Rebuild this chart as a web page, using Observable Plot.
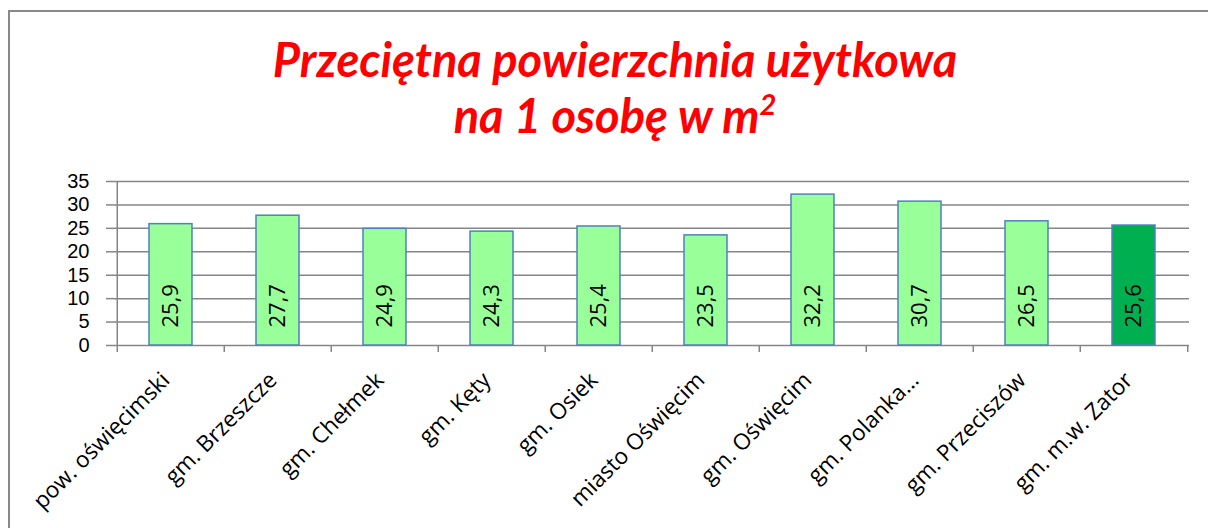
<!DOCTYPE html>
<html>
<head>
<meta charset="utf-8">
<script src="https://cdn.jsdelivr.net/npm/d3@7"></script>
<script src="https://cdn.jsdelivr.net/npm/@observablehq/plot@0.6"></script>
<style>
  html, body { margin: 0; padding: 0; background: #fff; }
  #wrap { position: relative; width: 1208px; height: 528px; overflow: hidden; background: #fff; }
  #border { position: absolute; left: 8px; top: 10px; width: 1300px; height: 700px; border: 2px solid #898989; box-sizing: border-box; }
  #title { position: absolute; left: 0; top: 31px; width: 1208px; text-align: center;
    font-family: Lato, "Open Sans", sans-serif; font-weight: bold; font-style: italic; font-size: 47px;
    line-height: 56px; color: #ff0000; padding-left: 22px; box-sizing: border-box; }
  #title sup { font-size: 0.62em; line-height: 0; vertical-align: 0.62em; }
  #chart { position: absolute; left: 0; top: 150px; }
</style>
</head>
<body>
<div id="wrap">
  <div id="border"></div>
  <div id="title">Przeciętna powierzchnia użytkowa<br>na 1 osobę w m<sup>2</sup></div>
  <div id="chart"></div>
</div>
<script>
const categories = ["pow. oświęcimski", "gm. Brzeszcze", "gm. Chełmek", "gm. Kęty", "gm. Osiek",
  "miasto Oświęcim", "gm. Oświęcim", "gm. Polanka…", "gm. Przeciszów", "gm. m.w. Zator"];
const values = [25.9, 27.7, 24.9, 24.3, 25.4, 23.5, 32.2, 30.7, 26.5, 25.6];
const highlighted = ["gm. m.w. Zator"];
const yTicks = [0, 5, 10, 15, 20, 25, 30, 35];

const data = categories.map((c, i) => ({category: c, value: values[i]}));

const W = 1208, H = 378, ML = 114, MR = 19, MT = 31, MB = 183;
const step = (W - ML - MR) / categories.length;
const gray = "#868686";
const light = "#99ff99", dark = "#00b050";
const fmt = v => v.toFixed(1).replace(".", ",");

const chart = Plot.plot({
  width: W, height: H,
  marginTop: MT, marginBottom: MB, marginLeft: ML, marginRight: MR,
  style: {fontFamily: "'Open Sans', sans-serif", fontSize: "21px", color: "black", background: "transparent", overflow: "visible"},
  x: {domain: categories, paddingInner: 0.6, paddingOuter: 0.3, label: null},
  y: {domain: [0, 35], label: null},
  color: {type: "identity"},
  marks: [
    Plot.gridY(yTicks, {stroke: gray, strokeOpacity: 1, strokeWidth: 1.5}),
    Plot.ruleX([categories[0]], {dx: -step / 2, stroke: gray, strokeWidth: 1.5}),
    Plot.ruleX(categories, {dx: -step / 2, y1: 0, y2: 0, insetBottom: -7, stroke: gray, strokeWidth: 1.5}),
    Plot.ruleX([categories[categories.length - 1]], {dx: step / 2, y1: 0, y2: 0, insetBottom: -7, stroke: gray, strokeWidth: 1.5}),
    Plot.barY(data, {x: "category", y: "value",
      fill: d => highlighted.includes(d.category) ? dark : light,
      stroke: "#4f81bd", strokeWidth: 1.5}),
    Plot.text(data, {x: "category", y: 0, text: d => fmt(d.value), rotate: -90,
      textAnchor: "start", lineAnchor: "middle", dy: -18, fontSize: 22, fill: "black"}),
    Plot.axisY(yTicks, {tickSize: 8, tickPadding: 17, stroke: gray, strokeWidth: 1.5, fontSize: 20,
      fontFamily: "'Liberation Sans', sans-serif", fill: "black"}),
    Plot.axisX({tickSize: 0, tickRotate: -45, tickPadding: 12, dx: -5, dy: 19, fontSize: 22.5, fill: "black"})
  ]
});
document.getElementById("chart").appendChild(chart);
</script>
</body>
</html>
